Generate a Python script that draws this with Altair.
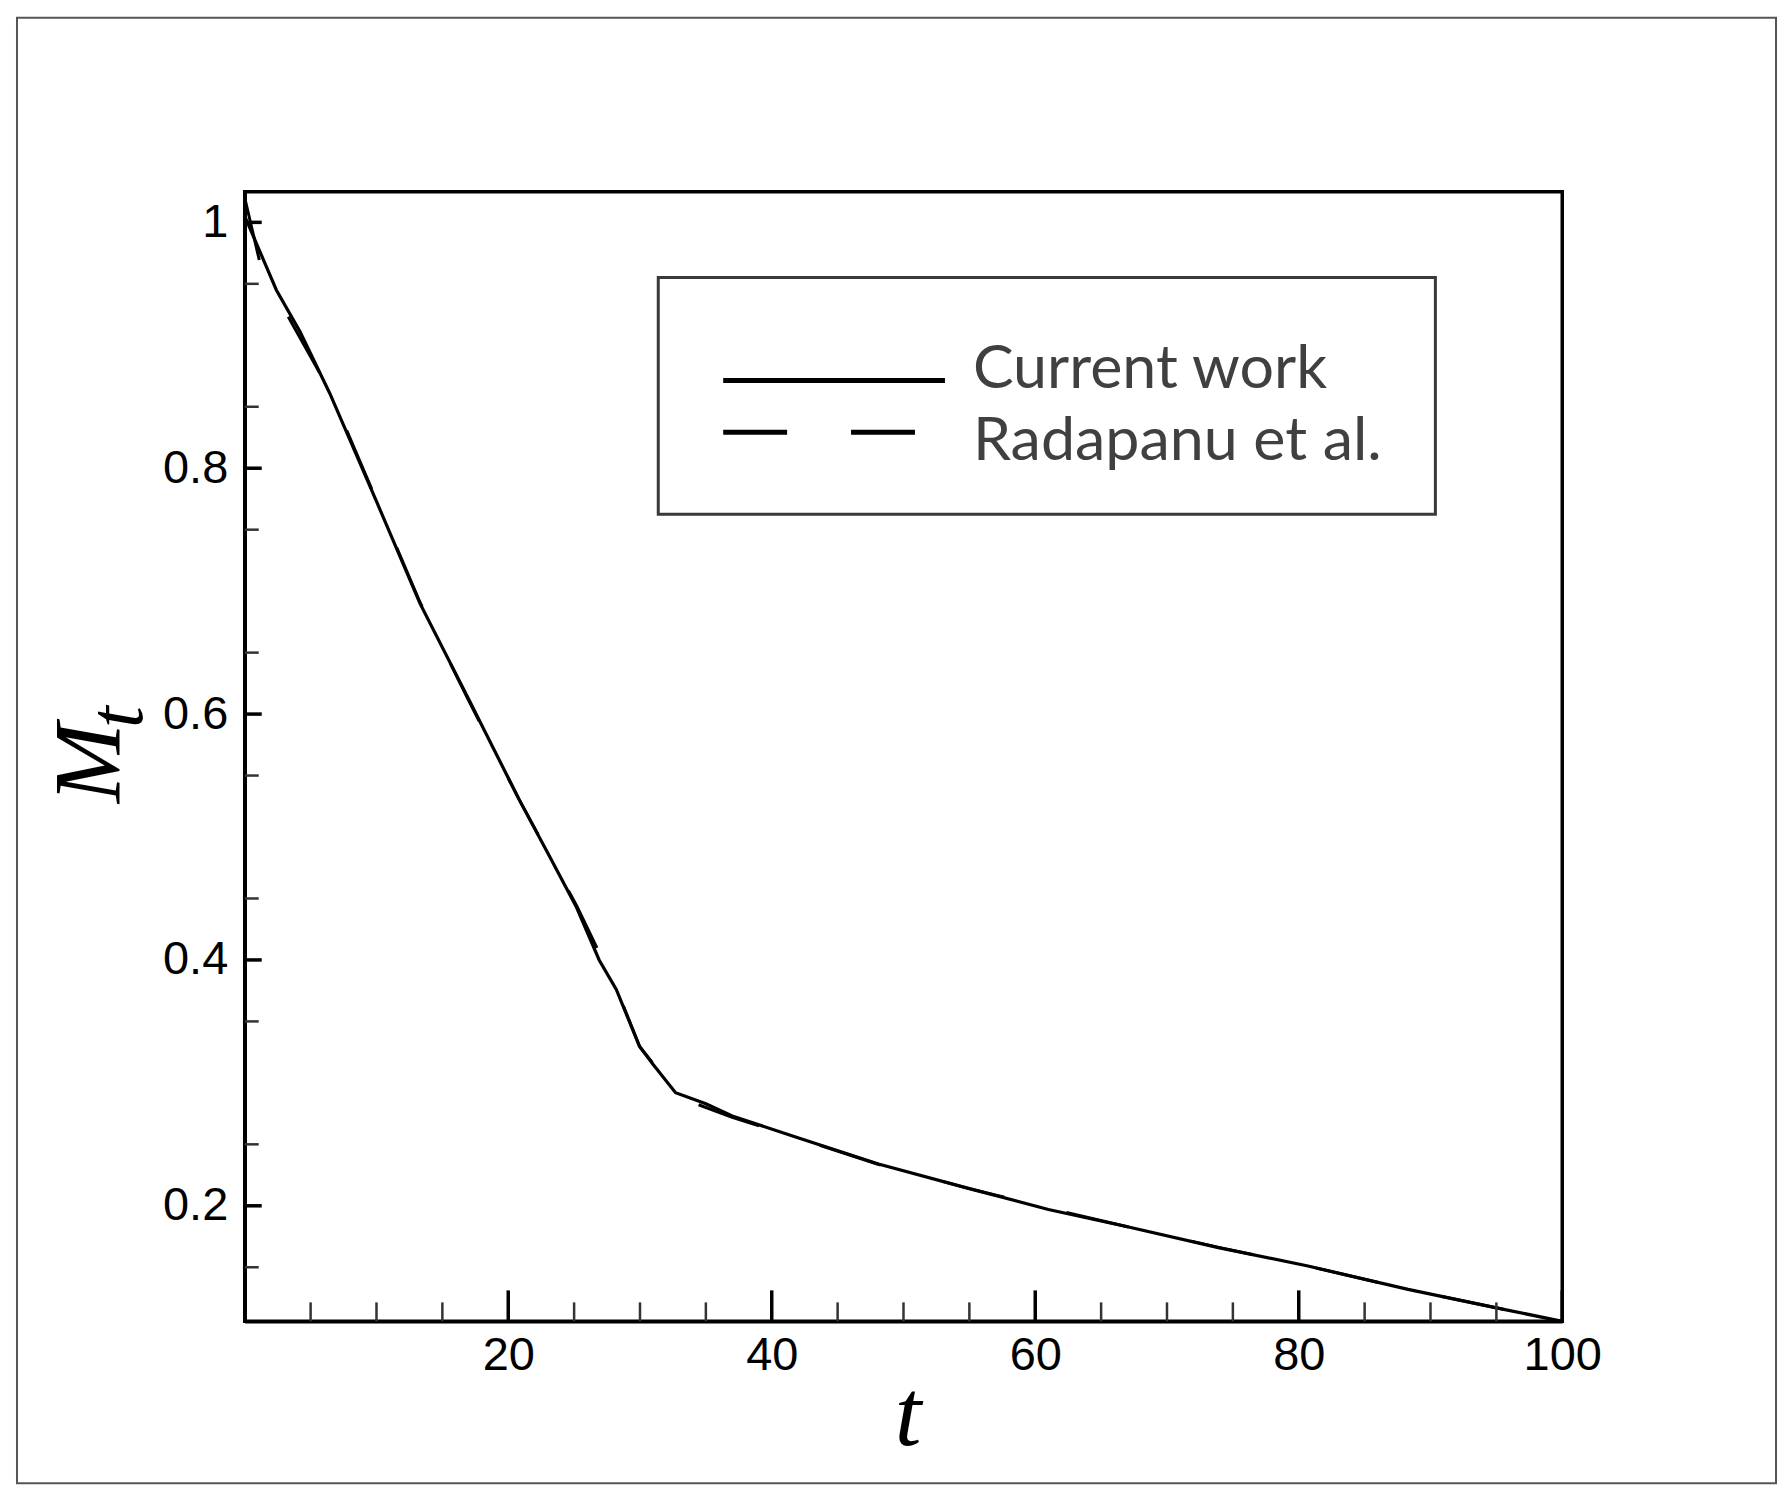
import altair as alt
import pandas as pd

# ---- data ----
t_current = [0, 2.4, 4.2, 6.45, 10, 13.3, 17, 20.85, 23, 25.15, 26.9, 28.2, 29.95, 31,
             32.7, 35, 37, 42.1, 48.1, 55, 61, 67, 73.9, 80.7, 88.3, 95, 100]
m_current = [1.005, 0.945, 0.911, 0.861, 0.773, 0.690, 0.612, 0.530, 0.487, 0.4435, 0.400,
             0.376, 0.330, 0.315, 0.292, 0.283, 0.273, 0.255, 0.234, 0.214, 0.197, 0.183,
             0.166, 0.151, 0.132, 0.117, 0.106]

t_radapanu = [0, 1.2, 2.4, 3.0, 6.5, 10, 13.3, 17, 20.8, 25.2, 28.2, 30, 31.2, 33.5, 37,
              42, 48, 55, 61, 67, 74, 80.7, 88.3, 95, 100]
m_radapanu = [1.02, 0.965, 0.943, 0.929, 0.862, 0.774, 0.691, 0.611, 0.531, 0.444, 0.377,
              0.329, 0.313, 0.286, 0.272, 0.255, 0.234, 0.214, 0.198, 0.183, 0.166, 0.151,
              0.132, 0.117, 0.106]

series_names = ["Current work", "Radapanu et al."]

x_label_values = [20, 40, 60, 80, 100]
y_label_values = [0.2, 0.4, 0.6, 0.8, 1.0]
x_major_ticks = [0, 20, 40, 60, 80, 100]
x_minor_ticks = [5, 10, 15, 25, 30, 35, 45, 50, 55, 65, 70, 75, 85, 90, 95]
y_major_ticks = [0.2, 0.4, 0.6, 0.8, 1.0]
y_minor_ticks = [0.15, 0.25, 0.35, 0.45, 0.55, 0.65, 0.75, 0.85, 0.95]

x_title = "t"
y_title_main = "M"
y_title_sub = "t"

# ---- layout ----
W, H = 1319, 1131

df_cur = pd.DataFrame({"t": t_current, "M": m_current})
df_rad = pd.DataFrame({"t": t_radapanu, "M": m_radapanu})
dummy = pd.DataFrame({"d": [0]})

x_scale = alt.Scale(domain=[0, 100], nice=False, zero=False)
y_scale = alt.Scale(domain=[0.106, 1.025], nice=False, zero=False)

x_axis = alt.Axis(values=x_label_values, format="d", labelFont="Liberation Sans",
                  labelFontSize=47, labelColor="black", labelPadding=11, ticks=False,
                  tickSize=0, domainColor="black", domainWidth=3.5, title=None,
                  grid=False, labelFlush=False, labelOverlap=False)
y_axis = alt.Axis(values=y_label_values, format="~g", labelFont="Liberation Sans",
                  labelFontSize=47, labelColor="black", labelPadding=17, ticks=False,
                  tickSize=0, domainColor="black", domainWidth=3.5, title=None,
                  grid=False, labelFlush=False, labelOverlap=False)


def X(field):
    return alt.X(f"{field}:Q", scale=x_scale, axis=x_axis)


def Y(field):
    return alt.Y(f"{field}:Q", scale=y_scale, axis=y_axis)


outer = alt.Chart(dummy).mark_rect(fill="white", fillOpacity=0, stroke="#555555",
                                   strokeWidth=2).encode(
    x=alt.value(-228), x2=alt.value(1533), y=alt.value(-174), y2=alt.value(1293))

rad_line = alt.Chart(df_rad).mark_line(color="black", strokeWidth=3,
                                       strokeDash=[64, 64]).encode(x=X("t"), y=Y("M"))

cur_line = alt.Chart(df_cur).mark_line(color="black", strokeWidth=3.2).encode(
    x=X("t"), y=Y("M"))

xmaj = alt.Chart(pd.DataFrame({"t": x_major_ticks})).mark_rule(
    color="black", strokeWidth=3.5).encode(
    x=X("t"), y=alt.value(H), y2=alt.value(H - 31))
xmin = alt.Chart(pd.DataFrame({"t": x_minor_ticks})).mark_rule(
    color="#333333", strokeWidth=2.5).encode(
    x=X("t"), y=alt.value(H), y2=alt.value(H - 19))
ymaj = alt.Chart(pd.DataFrame({"M": y_major_ticks})).mark_rule(
    color="black", strokeWidth=3.5).encode(
    y=Y("M"), x=alt.value(0), x2=alt.value(17))
ymin = alt.Chart(pd.DataFrame({"M": y_minor_ticks})).mark_rule(
    color="#333333", strokeWidth=2.5).encode(
    y=Y("M"), x=alt.value(0), x2=alt.value(14))

# legend
leg_box = alt.Chart(dummy).mark_rect(fill="white", stroke="#3a3a3a", strokeWidth=3).encode(
    x=alt.value(414), x2=alt.value(1192), y=alt.value(86), y2=alt.value(323))
leg_solid = alt.Chart(dummy).mark_rule(color="black", strokeWidth=5).encode(
    x=alt.value(479), x2=alt.value(701), y=alt.value(189))
leg_dash = alt.Chart(dummy).mark_rule(color="black", strokeWidth=5,
                                      strokeDash=[64, 64]).encode(
    x=alt.value(479), x2=alt.value(671), y=alt.value(241))
leg_texts = []
for name, ypos in zip(series_names, [197, 269]):
    leg_texts.append(
        alt.Chart(dummy).mark_text(text=name, align="left", baseline="alphabetic",
                                   font="Lato", fontSize=61, color="#404040").encode(
            x=alt.value(729), y=alt.value(ypos)))

# axis titles
xt = alt.Chart(dummy).mark_text(text=x_title, font="Liberation Serif", fontStyle="italic",
                                fontSize=96, align="center", baseline="alphabetic",
                                color="black").encode(x=alt.value(664), y=alt.value(1255))
ytm = alt.Chart(dummy).mark_text(text=y_title_main, font="Liberation Serif",
                                 fontStyle="italic", fontSize=96, angle=270, align="left",
                                 baseline="alphabetic", color="black").encode(
    x=alt.value(-125), y=alt.value(612))
yts = alt.Chart(dummy).mark_text(text=y_title_sub, font="Liberation Serif",
                                 fontStyle="italic", fontSize=78, angle=270, align="left",
                                 baseline="alphabetic", color="black").encode(
    x=alt.value(-103), y=alt.value(537))

chart = alt.layer(outer, rad_line, cur_line, xmaj, xmin, ymaj, ymin,
                  leg_box, leg_solid, leg_dash, *leg_texts, xt, ytm, yts).properties(
    width=W, height=H,
    autosize=alt.AutoSizeParams(type="none"),
    padding={"left": 237, "top": 183, "right": 222, "bottom": 170},
).configure_view(stroke="black", strokeWidth=3.5).configure_axis(grid=False)

chart.save("out.html", embed_options={"renderer": "svg", "actions": False})
